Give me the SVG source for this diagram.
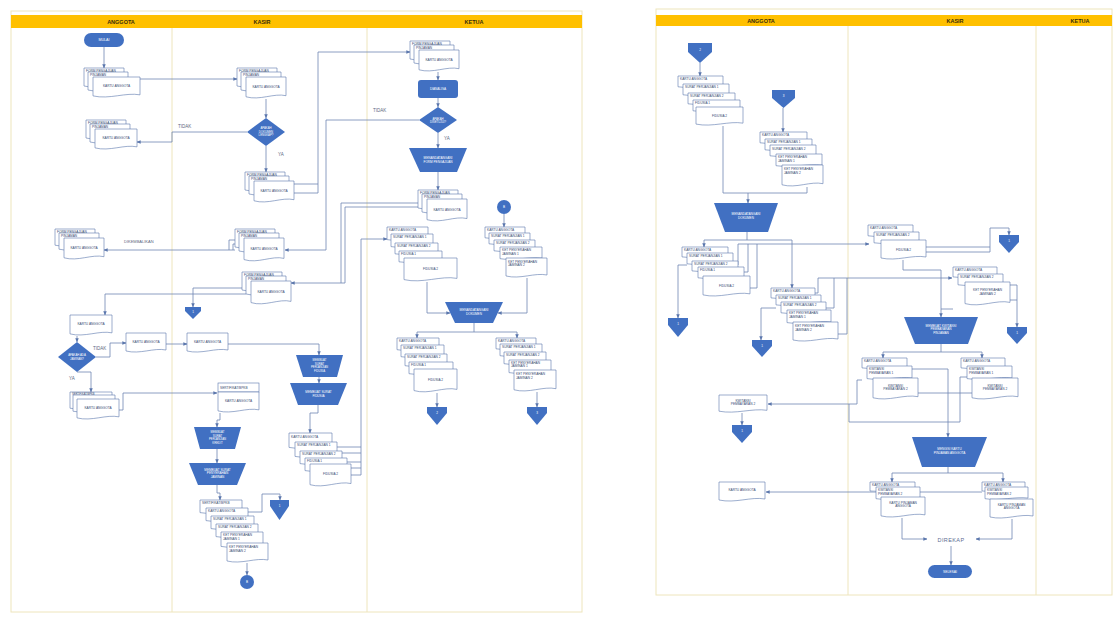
<svg xmlns="http://www.w3.org/2000/svg" width="1118" height="617" viewBox="0 0 1118 617">
<defs>
<path id="doc" d="M0,0H1V0.85C0.7,0.72 0.35,1.08 0,0.9Z" fill="#fff" stroke="#5B77AD" stroke-width="0.6" vector-effect="non-scaling-stroke"/>
<marker id="a" viewBox="0 0 6 6" refX="5.5" refY="3" markerWidth="4" markerHeight="4" orient="auto" markerUnits="userSpaceOnUse"><path d="M0,0.4L6,3L0,5.6z" fill="#5A76AC"/></marker>
</defs>
<style>
text{font-family:"Liberation Sans",Arial,sans-serif}
.h{font-size:5.5px;font-weight:bold;fill:#3A2E0C;text-anchor:middle}
.t{font-size:3.2px;fill:#34476F}
.m{text-anchor:middle}
.w{font-size:3.1px;fill:#fff;text-anchor:middle}
.b{fill:#4170C2}
.lane{stroke:#EEE5BC;stroke-width:1;fill:none}
#conn path,#conn2 path{fill:none;stroke:#6F86B3;stroke-width:0.8}
.ar{marker-end:url(#a)}
.lbl{font-size:4.5px;fill:#5C6780}
</style>
<rect width="1118" height="617" fill="#fff"/>

<!-- LEFT DIAGRAM FRAME -->
<g id="frameL">
<rect x="11" y="11" width="571" height="601" fill="#fff" stroke="#EEE5BC"/>
<rect x="11" y="15" width="571" height="13" fill="#FFC000"/>
<path class="lane" d="M172,28V612M367,28V612"/>
<text class="h" x="121" y="23.5">ANGGOTA</text>
<text class="h" x="262" y="23.5">KASIR</text>
<text class="h" x="474" y="23.5">KETUA</text>
</g>

<!-- RIGHT DIAGRAM FRAME -->
<g id="frameR">
<rect x="656" y="9" width="456" height="586" fill="#fff" stroke="#EEE5BC"/>
<rect x="656" y="15" width="456" height="11" fill="#FFC000"/>
<path class="lane" d="M848,26V595M1036,26V595"/>
<text class="h" x="761" y="22.5">ANGGOTA</text>
<text class="h" x="955" y="22.5">KASIR</text>
<text class="h" x="1080" y="22.5">KETUA</text>
</g>

<!-- CONNECTORS LEFT -->
<g id="conn">
<path class="ar" d="M104,47V68"/>
<path class="ar" d="M140,79H237"/>
<path class="ar" d="M266,99V118"/>
<path class="ar" d="M247,132H172V142H137"/>
<path class="ar" d="M266,146V172"/>
<path d="M285,184H318"/>
<path class="ar" d="M294,193H318V52H410"/>
<path class="ar" d="M438,72V80"/>
<path class="ar" d="M438,98V107"/>
<path class="ar" d="M419,120H326V250H285"/>
<path class="ar" d="M438,133V148"/>
<path class="ar" d="M438,172V190"/>
<path class="ar" d="M418,203H341V283H291"/>
<path d="M422,207H345V283H341"/>
<path class="ar" d="M235,250H104"/>
<path d="M237,240H229V250M241,244H233V250"/>
<path class="ar" d="M242,288H193V307"/>
<path class="ar" d="M246,294H105V315"/>
<path class="ar" d="M77,336V342"/>
<path class="ar" d="M96,357H110V343H126"/>
<path class="ar" d="M166,344H187"/>
<path class="ar" d="M228,344H319V355"/>
<path class="ar" d="M319,377V383"/>
<path class="ar" d="M318,405V413H310V433"/>
<path d="M332,447H361M337,453H361M342,462H361M347,468H361"/>
<path class="ar" d="M351,475H361V239H387"/>
<path class="ar" d="M77,372H91V392"/>
<path class="ar" d="M119,410H123V393H217"/>
<path class="ar" d="M220,413V420H217V427"/>
<path class="ar" d="M217,449V463"/>
<path class="ar" d="M217,485V493H220V500"/>
<path class="ar" d="M242,512H262V494H280V500"/>
<path class="ar" d="M247,563V575"/>
<path class="ar" d="M504,214V227"/>
<path class="ar" d="M427,282V313H450"/>
<path class="ar" d="M527,278V313H498"/>
<path d="M474,323V332M417,332H517"/>
<path class="ar" d="M417,332V338"/>
<path class="ar" d="M517,332V338"/>
<path class="ar" d="M437,393V407"/>
<path class="ar" d="M537,392V407"/>
</g>
<g id="labelsL">
<text class="lbl" x="178" y="128">TIDAK</text>
<text class="lbl" x="373" y="112">TIDAK</text>
<text class="lbl" x="93" y="350">TIDAK</text>
<text class="lbl" x="278" y="156">YA</text>
<text class="lbl" x="444" y="140">YA</text>
<text class="lbl" x="69" y="380">YA</text>
<text class="lbl" x="124" y="243" style="font-size:4px">DIKEMBALIKAN</text>
</g>

<!-- LEFT NODES -->
<g id="mulai"><rect class="b" x="84" y="33" width="40" height="14" rx="7"/><text class="w" x="104" y="41.2" style="font-size:3.6px">MULAI</text></g>

<g id="s1" class="t">
<use href="#doc" transform="matrix(40 0 0 20 84 68)"/><use href="#doc" transform="matrix(40 0 0 20 88 72)"/><use href="#doc" transform="matrix(47 0 0 21 93 77)"/>
<text x="86" y="71.6">FORM PENGAJUAN</text><text x="90" y="76">PINJAMAN</text><text class="m" x="116.5" y="87">KARTU ANGGOTA</text>
</g>
<g id="s2" class="t">
<use href="#doc" transform="matrix(40 0 0 20 86 120)"/><use href="#doc" transform="matrix(40 0 0 20 90 124)"/><use href="#doc" transform="matrix(42 0 0 21 95 129)"/>
<text x="88" y="123.6">FORM PENGAJUAN</text><text x="92" y="128">PINJAMAN</text><text class="m" x="116" y="139">KARTU ANGGOTA</text>
</g>
<g id="s3" class="t">
<use href="#doc" transform="matrix(40 0 0 20 237 68)"/><use href="#doc" transform="matrix(40 0 0 20 241 72)"/><use href="#doc" transform="matrix(40 0 0 22 246 77)"/>
<text x="239" y="71.6">FORM PENGAJUAN</text><text x="243" y="76">PINJAMAN</text><text class="m" x="266" y="88">KARTU ANGGOTA</text>
</g>
<g id="d1"><polygon class="b" points="266,118 285,132 266,146 247,132"/><text class="w" x="266" y="129.3" style="font-size:2.8px">APAKAH</text><text class="w" x="266" y="132.8" style="font-size:2.8px">DOKUMEN</text><text class="w" x="266" y="136.3" style="font-size:2.8px">LENGKAP?</text></g>
<g id="s4" class="t">
<use href="#doc" transform="matrix(40 0 0 20 245 172)"/><use href="#doc" transform="matrix(40 0 0 20 249 176)"/><use href="#doc" transform="matrix(40 0 0 22 254 181)"/>
<text x="247" y="175.6">FORM PENGAJUAN</text><text x="251" y="180">PINJAMAN</text><text class="m" x="274" y="192">KARTU ANGGOTA</text>
</g>
<g id="s5" class="t">
<use href="#doc" transform="matrix(40 0 0 20 410 41)"/><use href="#doc" transform="matrix(40 0 0 20 414 45)"/><use href="#doc" transform="matrix(40 0 0 22 419 50)"/>
<text x="412" y="44.6">FORM PENGAJUAN</text><text x="416" y="49">PINJAMAN</text><text class="m" x="439" y="61">KARTU ANGGOTA</text>
</g>
<g id="p1"><rect class="b" x="418" y="80" width="40" height="18" rx="3"/><text class="w" x="438" y="90.2">DIANALISA</text></g>
<g id="d2"><polygon class="b" points="438,107 457,120 438,133 419,120"/><text class="w" x="438" y="119.5" style="font-size:2.8px">APAKAH</text><text class="w" x="438" y="123" style="font-size:2.8px">DISETUJUI?</text></g>
<g id="t1"><polygon class="b" points="409,148 467,148 457,172 420,172"/><text class="w" x="438" y="158.5">MENANDATANGANI</text><text class="w" x="438" y="162.5">FORM PENGAJUAN</text></g>
<g id="s7" class="t">
<use href="#doc" transform="matrix(40 0 0 20 418 190)"/><use href="#doc" transform="matrix(40 0 0 20 422 194)"/><use href="#doc" transform="matrix(40 0 0 23 427 199)"/>
<text x="420" y="193.6">FORM PENGAJUAN</text><text x="424" y="198">PINJAMAN</text><text class="m" x="447" y="211">KARTU ANGGOTA</text>
</g>
<g id="s6" class="t">
<use href="#doc" transform="matrix(40 0 0 20 235 229)"/><use href="#doc" transform="matrix(40 0 0 20 239 233)"/><use href="#doc" transform="matrix(40 0 0 24 244 238)"/>
<text x="237" y="232.6">FORM PENGAJUAN</text><text x="241" y="237">PINJAMAN</text><text class="m" x="264" y="250">KARTU ANGGOTA</text>
</g>
<g id="s6a" class="t">
<use href="#doc" transform="matrix(40 0 0 18 55 229)"/><use href="#doc" transform="matrix(40 0 0 18 59 233)"/><use href="#doc" transform="matrix(40 0 0 22 64 238)"/>
<text x="57" y="232.6">FORM PENGAJUAN</text><text x="61" y="237">PINJAMAN</text><text class="m" x="84" y="249">KARTU ANGGOTA</text>
</g>
<g id="s8" class="t">
<use href="#doc" transform="matrix(40 0 0 20 242 272)"/><use href="#doc" transform="matrix(40 0 0 20 246 276)"/><use href="#doc" transform="matrix(40 0 0 24 251 281)"/>
<text x="244" y="275.6">FORM PENGAJUAN</text><text x="248" y="280">PINJAMAN</text><text class="m" x="271" y="293">KARTU ANGGOTA</text>
</g>
<g id="op1"><polygon class="b" points="185,307 201,307 201,311 193,319 185,311"/><text class="w" x="193" y="312.5">1</text></g>
<g id="a1" class="t"><use href="#doc" transform="matrix(42 0 0 21 70 315)"/><text class="m" x="91" y="325">KARTU ANGGOTA</text></g>
<g id="d3"><polygon class="b" points="77,342 96,357 77,372 58,357"/><text class="w" x="77" y="356" style="font-size:2.8px">APAKAH ADA</text><text class="w" x="77" y="359.6" style="font-size:2.8px">JAMINAN?</text></g>
<g id="a2" class="t"><use href="#doc" transform="matrix(40 0 0 20 126 333)"/><text class="m" x="146" y="342.5">KARTU ANGGOTA</text></g>
<g id="ka" class="t"><use href="#doc" transform="matrix(41 0 0 20 187 333)"/><text class="m" x="207.5" y="342.5">KARTU ANGGOTA</text></g>
<g id="t2"><polygon class="b" points="296,355 343,355 337,377 303,377"/><text class="w" x="319.5" y="361" style="font-size:2.8px">MEMBUAT</text><text class="w" x="319.5" y="364.5" style="font-size:2.8px">SURAT</text><text class="w" x="319.5" y="368" style="font-size:2.8px">PERJANJIAN</text><text class="w" x="319.5" y="371.5" style="font-size:2.8px">FIDUSIA</text></g>
<g id="t3"><polygon class="b" points="290,383 347,383 338,405 298,405"/><text class="w" x="318.5" y="392.5">MEMBUAT SURAT</text><text class="w" x="318.5" y="396.5">FIDUSIA</text></g>
<g id="s10" class="t">
<use href="#doc" transform="matrix(43 0 0 16 289 433)"/><use href="#doc" transform="matrix(42 0 0 16 295 442)"/><use href="#doc" transform="matrix(42 0 0 14 300 451)"/><use href="#doc" transform="matrix(42 0 0 14 305 458)"/><use href="#doc" transform="matrix(41 0 0 23 310 464)"/>
<text x="291" y="437.5">KARTU ANGGOTA</text><text x="297" y="446.3">SURAT PERJANJIAN 1</text><text x="302" y="455">SURAT PERJANJIAN 2</text><text x="307" y="462">FIDUSIA 1</text><text class="m" x="330.5" y="475">FIDUSIA 2</text>
</g>
<g id="s11" class="t">
<use href="#doc" transform="matrix(42 0 0 18 70 392)"/><use href="#doc" transform="matrix(42 0 0 18 73 395)"/><use href="#doc" transform="matrix(42 0 0 21 77 399)"/>
<text x="72" y="395.3" style="font-size:2.6px">SERTIFIKAT/BPKB</text><text class="m" x="98" y="409">KARTU ANGGOTA</text>
</g>
<g id="kb" class="t">
<rect x="218" y="383" width="41" height="9" fill="#fff" stroke="#5B77AD" stroke-width="0.6"/><use href="#doc" transform="matrix(41 0 0 21 218 392)"/>
<text x="220" y="389">SERTIFIKAT/BPKB</text><text class="m" x="238.5" y="402">KARTU ANGGOTA</text>
</g>
<g id="t4"><polygon class="b" points="194,427 241,427 235,449 200,449"/><text class="w" x="217.5" y="433" style="font-size:2.8px">MEMBUAT</text><text class="w" x="217.5" y="436.5" style="font-size:2.8px">SURAT</text><text class="w" x="217.5" y="440" style="font-size:2.8px">PERJANJIAN</text><text class="w" x="217.5" y="443.5" style="font-size:2.8px">KREDIT</text></g>
<g id="t5"><polygon class="b" points="189,463 246,463 237,485 198,485"/><text class="w" x="217.5" y="470.5">MEMBUAT SURAT</text><text class="w" x="217.5" y="474.3">PENYERAHAN</text><text class="w" x="217.5" y="478.1">JAMINAN</text></g>
<g id="s12" class="t">
<use href="#doc" transform="matrix(42 0 0 14 200 500)"/><use href="#doc" transform="matrix(42 0 0 14 206 508)"/><use href="#doc" transform="matrix(43 0 0 14 211 516)"/><use href="#doc" transform="matrix(42 0 0 14 216 524)"/><use href="#doc" transform="matrix(42 0 0 16 221 532)"/><use href="#doc" transform="matrix(41 0 0 20 227 543)"/>
<text x="202" y="504.2">SERTIFIKAT/BPKB</text><text x="208" y="512.2">KARTU ANGGOTA</text><text x="213" y="520.2">SURAT PERJANJIAN 1</text><text x="218" y="528.2">SURAT PERJANJIAN 2</text><text x="223" y="536">KET PENYERAHAN</text><text x="223" y="539.6">JAMINAN 1</text><text x="229" y="548">KET PENYERAHAN</text><text x="229" y="551.8">JAMINAN 2</text>
</g>
<g id="op2"><polygon class="b" points="270,500 289,500 289,506 279.5,520 270,506"/><text class="w" x="279.5" y="507">1</text></g>
<g id="cb1"><circle class="b" cx="247" cy="582" r="7"/><text class="w" x="247" y="583.2">B</text></g>

<g id="cb2"><circle class="b" cx="504" cy="207" r="7"/><text class="w" x="504" y="208.2">B</text></g>
<g id="s13" class="t">
<use href="#doc" transform="matrix(40 0 0 12 485 227)"/><use href="#doc" transform="matrix(41 0 0 12 489 233)"/><use href="#doc" transform="matrix(41 0 0 12 494 240)"/><use href="#doc" transform="matrix(42 0 0 13 500 247)"/><use href="#doc" transform="matrix(41 0 0 20 506 258)"/>
<text x="487" y="230.8">KARTU ANGGOTA</text><text x="491" y="236.8">SURAT PERJANJIAN 1</text><text x="496" y="243.8">SURAT PERJANJIAN 2</text><text x="502" y="250.8">KET PENYERAHAN</text><text x="502" y="254.5">JAMINAN 1</text><text x="508" y="262.5">KET PENYERAHAN</text><text x="508" y="266.2">JAMINAN 2</text>
</g>
<g id="s9" class="t">
<use href="#doc" transform="matrix(41 0 0 14 387 227)"/><use href="#doc" transform="matrix(42 0 0 14 391 234)"/><use href="#doc" transform="matrix(43 0 0 12 395 243)"/><use href="#doc" transform="matrix(43 0 0 12 399 251)"/><use href="#doc" transform="matrix(53 0 0 24 404 258)"/>
<text x="389" y="231">KARTU ANGGOTA</text><text x="393" y="238">SURAT PERJANJIAN 1</text><text x="397" y="246.8">SURAT PERJANJIAN 2</text><text x="401" y="254.8">FIDUSIA 1</text><text class="m" x="430.5" y="270">FIDUSIA 2</text>
</g>
<g id="t6"><polygon class="b" points="445,302 503,302 493,323 455,323"/><text class="w" x="474" y="311">MENANDATANGANI</text><text class="w" x="474" y="315">DOKUMEN</text></g>
<g id="s14" class="t">
<use href="#doc" transform="matrix(42 0 0 13 397 338)"/><use href="#doc" transform="matrix(43 0 0 13 401 345)"/><use href="#doc" transform="matrix(42 0 0 13 405 354)"/><use href="#doc" transform="matrix(44 0 0 13 409 362)"/><use href="#doc" transform="matrix(43 0 0 24 414 369)"/>
<text x="399" y="342">KARTU ANGGOTA</text><text x="403" y="349">SURAT PERJANJIAN 1</text><text x="407" y="358">SURAT PERJANJIAN 2</text><text x="411" y="366">FIDUSIA 1</text><text class="m" x="435.5" y="381">FIDUSIA 2</text>
</g>
<g id="s15" class="t">
<use href="#doc" transform="matrix(40 0 0 12 496 338)"/><use href="#doc" transform="matrix(42 0 0 13 500 344)"/><use href="#doc" transform="matrix(42 0 0 13 504 352)"/><use href="#doc" transform="matrix(42 0 0 14 509 360)"/><use href="#doc" transform="matrix(42 0 0 22 514 370)"/>
<text x="498" y="341.8">KARTU ANGGOTA</text><text x="502" y="347.8">SURAT PERJANJIAN 1</text><text x="506" y="355.8">SURAT PERJANJIAN 2</text><text x="511" y="363.6">KET PENYERAHAN</text><text x="511" y="367.3">JAMINAN 1</text><text x="516" y="375">KET PENYERAHAN</text><text x="516" y="378.8">JAMINAN 2</text>
</g>
<g id="op3"><polygon class="b" points="427,407 447,407 447,413 437,425 427,413"/><text class="w" x="437" y="414">2</text></g>
<g id="op4"><polygon class="b" points="527,407 547,407 547,413 537,425 527,413"/><text class="w" x="537" y="414">3</text></g>

<!-- CONNECTORS RIGHT -->
<g id="conn2">
<path class="ar" d="M700,63V76"/>
<path class="ar" d="M783,108V132"/>
<path d="M723,126V193H807V187"/>
<path class="ar" d="M748,193V203"/>
<path d="M747,232V240M704,240H792"/>
<path class="ar" d="M704,240V247"/>
<path class="ar" d="M792,240V288"/>
<path class="ar" d="M738,265V244H869"/>
<path d="M744,272H748V244M750,288H757V244"/>
<path class="ar" d="M687,265H678V318"/>
<path class="ar" d="M815,293H818V278H952"/>
<path d="M825,308H834V278M838,334H847V278"/>
<path class="ar" d="M776,308H761V340"/>
<path d="M926,247H990"/>
<path class="ar" d="M926,252H990V228H1009V235"/>
<path class="ar" d="M903,260V270H941V317"/>
<path d="M953,309H941"/>
<path class="ar" d="M1010,285H1017V327"/>
<path d="M1010,300H1017"/>
<path d="M941,344V352M883,352H982"/>
<path class="ar" d="M883,352V358"/>
<path class="ar" d="M982,352V358"/>
<path class="ar" d="M907,369H948V437"/>
<path d="M967,377H960V422H849V404M918,393H972"/>
<path class="ar" d="M862,380H857V404H768"/>
<path class="ar" d="M742,413V425"/>
<path d="M948,467V473M892,473H1003"/>
<path class="ar" d="M892,473V482"/>
<path class="ar" d="M1003,473V482"/>
<path class="ar" d="M982,492H766"/>
<path class="ar" d="M902,518V539H927"/>
<path class="ar" d="M1012,519V539H976"/>
<path class="ar" d="M951,546V565"/>
</g>

<!-- RIGHT NODES -->
<g id="op5"><polygon class="b" points="688,43 712,43 712,52 700,63 688,52"/><text class="w" x="700" y="51">2</text></g>
<g id="r1" class="t">
<use href="#doc" transform="matrix(45 0 0 12 678 76)"/><use href="#doc" transform="matrix(46 0 0 12 683 84)"/><use href="#doc" transform="matrix(47 0 0 12 688 93)"/><use href="#doc" transform="matrix(47 0 0 12 693 100)"/><use href="#doc" transform="matrix(47 0 0 19 696 107)"/>
<text x="680" y="80">KARTU ANGGOTA</text><text x="685" y="88">SURAT PERJANJIAN 1</text><text x="690" y="97">SURAT PERJANJIAN 2</text><text x="695" y="104">FIDUSIA 1</text><text class="m" x="719.5" y="117">FIDUSIA 2</text>
</g>
<g id="op6"><polygon class="b" points="772,90 795,90 795,98 783.5,108 772,98"/><text class="w" x="783.5" y="97">3</text></g>
<g id="r2" class="t">
<use href="#doc" transform="matrix(47 0 0 12 760 132)"/><use href="#doc" transform="matrix(47 0 0 12 765 139)"/><use href="#doc" transform="matrix(46 0 0 12 770 145)"/><use href="#doc" transform="matrix(46 0 0 13 776 154)"/><use href="#doc" transform="matrix(41 0 0 22 782 165)"/>
<text x="762" y="136">KARTU ANGGOTA</text><text x="767" y="143">SURAT PERJANJIAN 1</text><text x="772" y="149.5">SURAT PERJANJIAN 2</text><text x="778" y="158">KET PENYERAHAN</text><text x="778" y="161.8">JAMINAN 1</text><text x="784" y="170">KET PENYERAHAN</text><text x="784" y="173.8">JAMINAN 2</text>
</g>
<g id="tr1"><polygon class="b" points="714,203 778,203 768,232 725,232"/><text class="w" x="746" y="215">MENANDATANGANI</text><text class="w" x="746" y="219">DOKUMEN</text></g>
<g id="r3" class="t">
<use href="#doc" transform="matrix(46 0 0 11 682 247)"/><use href="#doc" transform="matrix(46 0 0 12 687 253)"/><use href="#doc" transform="matrix(46 0 0 11 692 261)"/><use href="#doc" transform="matrix(46 0 0 12 698 267)"/><use href="#doc" transform="matrix(47 0 0 21 703 276)"/>
<text x="684" y="250.8">KARTU ANGGOTA</text><text x="689" y="256.8">SURAT PERJANJIAN 1</text><text x="694" y="264.8">SURAT PERJANJIAN 2</text><text x="700" y="271">FIDUSIA 1</text><text class="m" x="726.5" y="287">FIDUSIA 2</text>
</g>
<g id="op7"><polygon class="b" points="668,318 688,318 688,325 678,337 668,325"/><text class="w" x="678" y="325">1</text></g>
<g id="r4" class="t">
<use href="#doc" transform="matrix(44 0 0 11 771 288)"/><use href="#doc" transform="matrix(45 0 0 11 776 295)"/><use href="#doc" transform="matrix(45 0 0 12 781 302)"/><use href="#doc" transform="matrix(44 0 0 14 787 310)"/><use href="#doc" transform="matrix(45 0 0 20 793 322)"/>
<text x="773" y="291.8">KARTU ANGGOTA</text><text x="778" y="298.8">SURAT PERJANJIAN 1</text><text x="783" y="305.8">SURAT PERJANJIAN 2</text><text x="789" y="313.8">KET PENYERAHAN</text><text x="789" y="317.5">JAMINAN 1</text><text x="795" y="327">KET PENYERAHAN</text><text x="795" y="330.8">JAMINAN 2</text>
</g>
<g id="op8"><polygon class="b" points="752,340 772,340 772,346 762,357 752,346"/><text class="w" x="762" y="347">1</text></g>
<g id="k1" class="t">
<use href="#doc" transform="matrix(45 0 0 12 868 225)"/><use href="#doc" transform="matrix(45 0 0 12 874 232)"/><use href="#doc" transform="matrix(45 0 0 20 881 240)"/>
<text x="870" y="229">KARTU ANGGOTA</text><text x="876" y="236">SURAT PERJANJIAN 2</text><text class="m" x="903.5" y="250.5">FIDUSIA 2</text>
</g>
<g id="op9"><polygon class="b" points="999,235 1019,235 1019,242 1009,253 999,242"/><text class="w" x="1009" y="242">1</text></g>
<g id="k2" class="t">
<use href="#doc" transform="matrix(44 0 0 11 953 267)"/><use href="#doc" transform="matrix(45 0 0 12 958 274)"/><use href="#doc" transform="matrix(45 0 0 24 965 282)"/>
<text x="955" y="270.8">KARTU ANGGOTA</text><text x="960" y="278">SURAT PERJANJIAN 2</text><text class="m" x="987.5" y="291">KET PENYERAHAN</text><text class="m" x="987.5" y="294.8">JAMINAN 2</text>
</g>
<g id="op10"><polygon class="b" points="1007,327 1027,327 1027,333 1017,344 1007,333"/><text class="w" x="1017" y="334">1</text></g>
<g id="tk3"><polygon class="b" points="904,317 978,317 968,344 915,344"/><text class="w" x="941" y="326.5">MEMBUAT KWITANSI</text><text class="w" x="941" y="330.3">PEMBAYARAN</text><text class="w" x="941" y="334.1">PINJAMAN</text></g>
<g id="k4" class="t">
<use href="#doc" transform="matrix(45 0 0 11 862 358)"/><use href="#doc" transform="matrix(45 0 0 14 867 366)"/><use href="#doc" transform="matrix(45 0 0 22 873 378)"/>
<text x="864" y="362">KARTU ANGGOTA</text><text x="869" y="370">KWITANSI</text><text x="869" y="373.7">PEMBAYARAN 1</text><text class="m" x="895.5" y="386.5">KWITANSI</text><text class="m" x="895.5" y="390.3">PEMBAYARAN 2</text>
</g>
<g id="k5" class="t">
<use href="#doc" transform="matrix(44 0 0 11 961 358)"/><use href="#doc" transform="matrix(45 0 0 14 967 366)"/><use href="#doc" transform="matrix(46 0 0 22 972 378)"/>
<text x="963" y="362">KARTU ANGGOTA</text><text x="969" y="370">KWITANSI</text><text x="969" y="373.7">PEMBAYARAN 1</text><text class="m" x="995" y="386.5">KWITANSI</text><text class="m" x="995" y="390.3">PEMBAYARAN 2</text>
</g>
<g id="ar1" class="t"><use href="#doc" transform="matrix(48 0 0 18 719 395)"/><text class="m" x="743" y="401.5">KWITANSI</text><text class="m" x="743" y="405.3">PEMBAYARAN 2</text></g>
<g id="op11"><polygon class="b" points="732,425 752,425 752,432 742,443 732,432"/><text class="w" x="742" y="432">1</text></g>
<g id="tk6"><polygon class="b" points="912,437 987,437 975,467 922,467"/><text class="w" x="949.5" y="449.5">MENGISI KARTU</text><text class="w" x="949.5" y="453.5">PINJAMAN ANGGOTA</text></g>
<g id="k7" class="t">
<use href="#doc" transform="matrix(45 0 0 10 870 482)"/><use href="#doc" transform="matrix(44 0 0 13 876 487)"/><use href="#doc" transform="matrix(44 0 0 21 881 497)"/>
<text x="872" y="485.8">KARTU ANGGOTA</text><text x="878" y="490.8">KWITANSI</text><text x="878" y="494.5">PEMBAYARAN 2</text><text class="m" x="903" y="503.5">KARTU PINJAMAN</text><text class="m" x="903" y="507.3">ANGGOTA</text>
</g>
<g id="k8" class="t">
<use href="#doc" transform="matrix(43 0 0 10 982 482)"/><use href="#doc" transform="matrix(43 0 0 13 985 487)"/><use href="#doc" transform="matrix(43 0 0 20 990 499)"/>
<text x="984" y="485.8">KARTU ANGGOTA</text><text x="987" y="490.8">KWITANSI</text><text x="987" y="494.5">PEMBAYARAN 2</text><text class="m" x="1011.5" y="505.5">KARTU PINJAMAN</text><text class="m" x="1011.5" y="509.3">ANGGOTA</text>
</g>
<g id="ar2" class="t"><use href="#doc" transform="matrix(46 0 0 20 719 482)"/><text class="m" x="742" y="490.5">KARTU ANGGOTA</text></g>
<g id="direkap"><text x="951" y="541.5" style="font-size:5.5px;fill:#5C6C92;text-anchor:middle;letter-spacing:0.4px">DIREKAP</text></g>
<g id="selesai"><rect class="b" x="928" y="565" width="44" height="13" rx="6.5"/><text class="w" x="950" y="572.7" style="font-size:3.4px">SELESAI</text></g>
</svg>
